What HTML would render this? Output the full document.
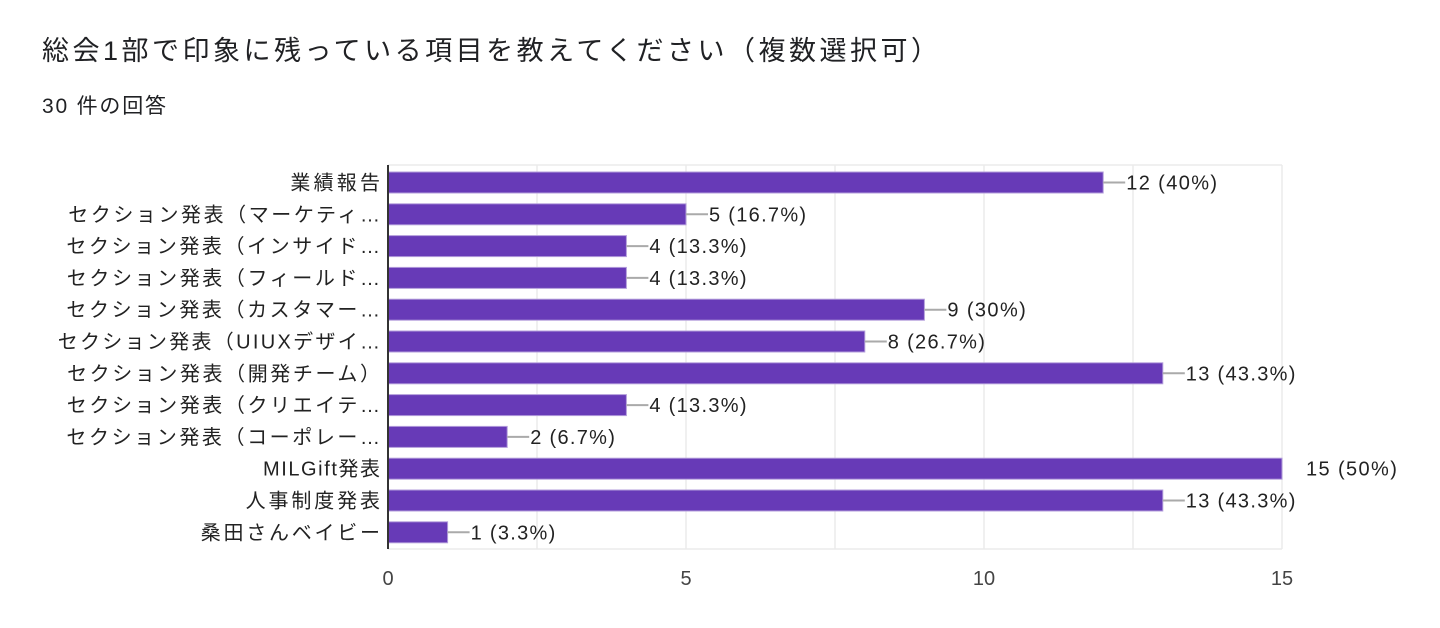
<!DOCTYPE html>
<html><head><meta charset="utf-8"><style>
body{margin:0;background:#fff;width:1440px;height:623px;overflow:hidden;font-family:"Liberation Sans","Noto Sans CJK JP",sans-serif}
svg text{font-family:"Liberation Sans","Noto Sans CJK JP",sans-serif}
</style></head><body>
<svg id="sv" width="1440" height="623" xmlns="http://www.w3.org/2000/svg">
<text x="42" y="60" font-size="27" fill="#202124" textLength="896" lengthAdjust="spacing">総会1部で印象に残っている項目を教えてください（複数選択可）</text>
<text x="42" y="113" font-size="21" fill="#202124" textLength="124" lengthAdjust="spacing">30 件の回答</text>
<g stroke="#ebebeb" stroke-width="1.5">
<line x1="388" y1="165" x2="1282" y2="165"/>
<line x1="388" y1="549" x2="1282" y2="549"/>
<line x1="537" y1="165" x2="537" y2="549"/>
<line x1="686" y1="165" x2="686" y2="549"/>
<line x1="835" y1="165" x2="835" y2="549"/>
<line x1="984" y1="165" x2="984" y2="549"/>
<line x1="1133" y1="165" x2="1133" y2="549"/>
<line x1="1282" y1="165" x2="1282" y2="549"/>
</g>
<g id="bars"></g>
<line x1="388" y1="165" x2="388" y2="549" stroke="#333" stroke-width="2"/>
<g font-size="20" fill="#444" text-anchor="middle">
<text x="388" y="585">0</text><text x="686" y="585">5</text><text x="984" y="585">10</text><text x="1282" y="585">15</text>
</g>
</svg>
<script>
var d=[["業績報告",12,"12 (40%)"],["セクション発表（マーケティ…",5,"5 (16.7%)"],["セクション発表（インサイド…",4,"4 (13.3%)"],["セクション発表（フィールド…",4,"4 (13.3%)"],["セクション発表（カスタマー…",9,"9 (30%)"],["セクション発表（UIUXデザイ…",8,"8 (26.7%)"],["セクション発表（開発チーム）",13,"13 (43.3%)"],["セクション発表（クリエイテ…",4,"4 (13.3%)"],["セクション発表（コーポレー…",2,"2 (6.7%)"],["MILGift発表",15,"15 (50%)"],["人事制度発表",13,"13 (43.3%)"],["桑田さんベイビー",1,"1 (3.3%)"]];
var g=document.getElementById("bars"),s="",u=59.6;
d.forEach(function(r,i){var cy=182.5+i*31.8,w=r[1]*u,x2=388+w;
s+='<rect x="388" y="'+(cy-10.5)+'" width="'+w+'" height="21" fill="#673ab7" stroke="#b39ddb" stroke-width="1"/>';
s+='<text class="st" x="380" y="'+(cy+7)+'" font-size="20" fill="#222" text-anchor="end">'+r[0]+'</text>';
if(r[1]==15){s+='<text class="st" x="1306" y="'+(cy+7)+'" font-size="20" fill="#222">'+r[2]+'</text>';}
else{s+='<line x1="'+x2+'" y1="'+cy+'" x2="'+(x2+22)+'" y2="'+cy+'" stroke="#aaa" stroke-width="2"/>';
s+='<text class="st" x="'+(x2+23)+'" y="'+(cy+7)+'" font-size="20" fill="#222">'+r[2]+'</text>';}
});
g.innerHTML=s;
document.querySelectorAll(".st").forEach(function(t){var L=t.getComputedTextLength();t.setAttribute("textLength",(L*1.12).toFixed(1));t.setAttribute("lengthAdjust","spacing");});
</script>
</body></html>
